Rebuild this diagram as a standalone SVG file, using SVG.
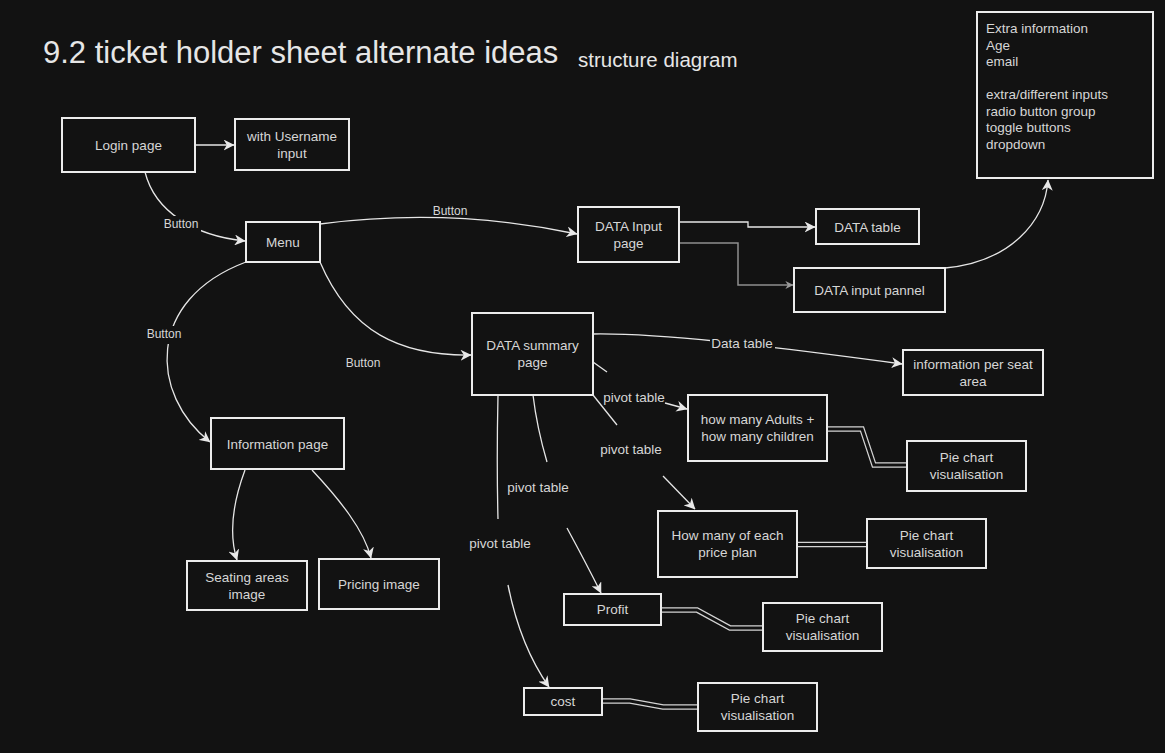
<svg xmlns="http://www.w3.org/2000/svg" width="1165" height="753" viewBox="0 0 1165 753">
<defs>
<style>
.bg{fill:#121212}
.box{fill:#121212;stroke:#ececec;stroke-width:2}
.t{font-family:"Liberation Sans",Arial,Helvetica,sans-serif;font-size:13.5px;fill:#d6d6d6;text-anchor:middle}
.tl{font-family:"Liberation Sans",Arial,Helvetica,sans-serif;font-size:13.5px;fill:#d6d6d6}
.lb{font-family:"Liberation Sans",Arial,Helvetica,sans-serif;font-size:12px;fill:#d6d6d6;text-anchor:middle}
.e{fill:none;stroke:#e6e6e6;stroke-width:1.3}
.eg{fill:none;stroke:#8f8f8f;stroke-width:1.5}
.lo{fill:none;stroke:#d4d4d4;stroke-width:5.5;stroke-linejoin:miter}
.li{fill:none;stroke:#121212;stroke-width:3;stroke-linejoin:miter}
.title{font-family:"Liberation Sans",Arial,Helvetica,sans-serif;fill:#e6e6e6}
</style>
<marker id="arr" viewBox="0 0 10 10" refX="9.5" refY="5" markerWidth="11" markerHeight="11" markerUnits="userSpaceOnUse" orient="auto">
<path d="M0,0 L10,5 L0,10 L3,5 z" fill="#e8e8e8"/>
</marker>
<marker id="arrg" viewBox="0 0 10 10" refX="9.5" refY="5" markerWidth="8" markerHeight="8" markerUnits="userSpaceOnUse" orient="auto">
<path d="M0,0 L10,5 L0,10 L3,5 z" fill="#9a9a9a"/>
</marker>
</defs>
<rect class="bg" x="0" y="0" width="1165" height="753"/>

<text class="title" x="43" y="63" font-size="31">9.2 ticket holder sheet alternate ideas</text>
<text class="title" x="578" y="67" font-size="20.5">structure diagram</text>

<g id="connectors">
<path class="e" d="M195,145 L234,145" marker-end="url(#arr)"/>
<path class="e" d="M145,172 C155,212 195,236 245,241" marker-end="url(#arr)"/>
<path class="e" d="M320,224 Q450,207 577,234" marker-end="url(#arr)"/>
<path class="e" d="M679,222 L748,222 L748,227 L815,227" marker-end="url(#arr)"/>
<path class="eg" d="M679,243 L738,243 L738,285 L793,285" marker-end="url(#arrg)"/>
<path class="e" d="M945,268 C1010,262 1045,222 1048,180" marker-end="url(#arr)"/>
<path class="e" d="M246,262 C145,300 150,395 210,442" marker-end="url(#arr)"/>
<path class="e" d="M320,262 C350,332 400,356 471,355" marker-end="url(#arr)"/>
<path class="e" d="M245,470 C232,505 229,535 237,560" marker-end="url(#arr)"/>
<path class="e" d="M312,470 C340,500 364,530 371,558" marker-end="url(#arr)"/>
<path class="e" d="M593,334 C660,333 760,345 902,364" marker-end="url(#arr)"/>
<path class="e" d="M593,362 L607,372"/>
<path class="e" d="M665,403 L687,409" marker-end="url(#arr)"/>
<path class="e" d="M593,395 L617,425"/>
<path class="e" d="M663,476 L695,509" marker-end="url(#arr)"/>
<path class="e" d="M533,395 C536,420 542,445 547,462"/>
<path class="e" d="M567,528 C580,552 592,575 601,593" marker-end="url(#arr)"/>
<path class="e" d="M498,395 C497,440 497,480 498,519"/>
<path class="e" d="M508,585 C516,625 530,660 549,687" marker-end="url(#arr)"/>

<path class="lo" d="M827,429 L862,429 L874,465 L907,465"/>
<path class="li" d="M827,429 L862,429 L874,465 L907,465"/>
<path class="lo" d="M797,544.5 L867,544.5"/>
<path class="li" d="M797,544.5 L867,544.5"/>
<path class="lo" d="M661,610 L697,610 L730,628 L763,628"/>
<path class="li" d="M661,610 L697,610 L730,628 L763,628"/>
<path class="lo" d="M602,701 L630,701 L663,707 L698,707"/>
<path class="li" d="M602,701 L630,701 L663,707 L698,707"/>

<rect class="bg" x="161" y="216" width="40" height="16"/>
<text class="lb" x="181" y="228">Button</text>
<text class="lb" x="450" y="215">Button</text>
<rect class="bg" x="144" y="326" width="40" height="18"/>
<text class="lb" x="164" y="338">Button</text>
<text class="lb" x="363" y="367">Button</text>
<rect class="bg" x="710" y="335" width="65" height="17"/>
<text class="t" x="742" y="348">Data table</text>
<text class="t" x="634" y="402">pivot table</text>
<text class="t" x="631" y="454">pivot table</text>
<text class="t" x="538" y="492">pivot table</text>
<text class="t" x="500" y="548">pivot table</text>
</g>

<g id="login"><rect class="box" x="62" y="118" width="133" height="54"/><text class="t" x="128.5" y="150">Login page</text></g>
<g id="username"><rect class="box" x="235" y="119" width="114" height="51"/><text class="t" x="292" y="141">with Username</text><text class="t" x="292" y="158">input</text></g>
<g id="menu"><rect class="box" x="246" y="222" width="74" height="40"/><text class="t" x="283" y="247">Menu</text></g>
<g id="datainput"><rect class="box" x="578" y="207" width="101" height="55"/><text class="t" x="628.5" y="231">DATA Input</text><text class="t" x="628.5" y="248">page</text></g>
<g id="datatable"><rect class="box" x="816" y="209" width="103" height="35"/><text class="t" x="867.5" y="231.5">DATA table</text></g>
<g id="inputpannel"><rect class="box" x="794" y="268" width="151" height="44"/><text class="t" x="869.5" y="295">DATA input pannel</text></g>
<g id="extrainfo"><rect class="box" x="977" y="12" width="176" height="166"/>
<text class="tl" x="986" y="33">Extra information</text>
<text class="tl" x="986" y="49.5">Age</text>
<text class="tl" x="986" y="66">email</text>
<text class="tl" x="986" y="99">extra/different inputs</text>
<text class="tl" x="986" y="115.5">radio button group</text>
<text class="tl" x="986" y="132">toggle buttons</text>
<text class="tl" x="986" y="148.5">dropdown</text>
</g>
<g id="summary"><rect class="box" x="472" y="313" width="121" height="82"/><text class="t" x="532.5" y="350">DATA summary</text><text class="t" x="532.5" y="367">page</text></g>
<g id="perseat"><rect class="box" x="903" y="350" width="140" height="45"/><text class="t" x="973" y="369">information per seat</text><text class="t" x="973" y="386">area</text></g>
<g id="adults"><rect class="box" x="688" y="395" width="139" height="66"/><text class="t" x="757.5" y="424">how many Adults +</text><text class="t" x="757.5" y="441">how many children</text></g>
<g id="pie1"><rect class="box" x="907" y="441" width="119" height="50"/><text class="t" x="966.5" y="462">Pie chart</text><text class="t" x="966.5" y="479">visualisation</text></g>
<g id="priceplan"><rect class="box" x="658" y="511" width="139" height="66"/><text class="t" x="727.5" y="540">How many of each</text><text class="t" x="727.5" y="557">price plan</text></g>
<g id="pie2"><rect class="box" x="867" y="519" width="119" height="49"/><text class="t" x="926.5" y="540">Pie chart</text><text class="t" x="926.5" y="557">visualisation</text></g>
<g id="profit"><rect class="box" x="564" y="594" width="97" height="31"/><text class="t" x="612.5" y="614">Profit</text></g>
<g id="pie3"><rect class="box" x="763" y="603" width="119" height="48"/><text class="t" x="822.5" y="623">Pie chart</text><text class="t" x="822.5" y="640">visualisation</text></g>
<g id="cost"><rect class="box" x="524" y="688" width="78" height="27"/><text class="t" x="563" y="706">cost</text></g>
<g id="pie4"><rect class="box" x="698" y="683" width="119" height="48"/><text class="t" x="757.5" y="703">Pie chart</text><text class="t" x="757.5" y="720">visualisation</text></g>
<g id="infopage"><rect class="box" x="211" y="418" width="133" height="51"/><text class="t" x="277.5" y="448.5">Information page</text></g>
<g id="seating"><rect class="box" x="187" y="561" width="120" height="49"/><text class="t" x="247" y="582">Seating areas</text><text class="t" x="247" y="599">image</text></g>
<g id="pricing"><rect class="box" x="319" y="559" width="120" height="50"/><text class="t" x="379" y="589">Pricing image</text></g>
</svg>
